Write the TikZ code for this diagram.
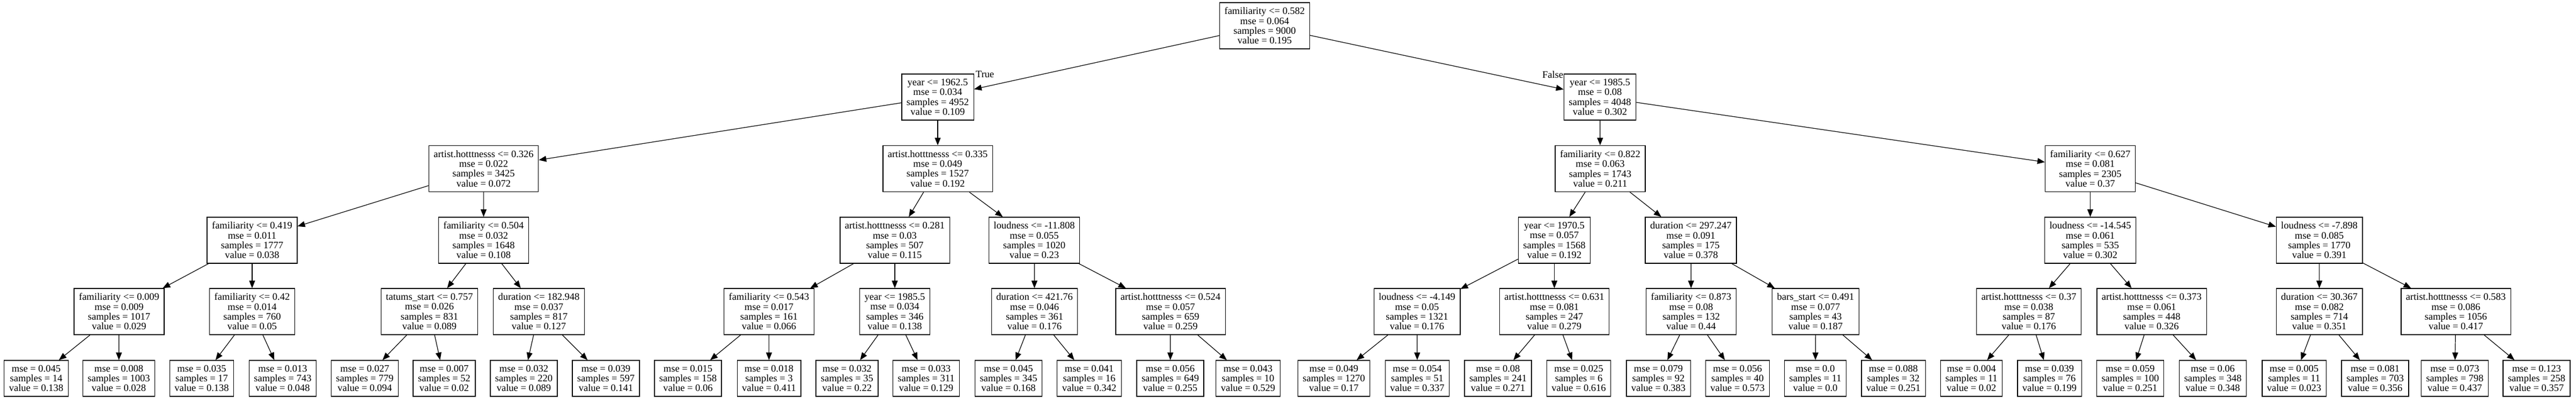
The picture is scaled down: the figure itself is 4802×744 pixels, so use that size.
\documentclass[tikz,border=0pt]{standalone}
\usepackage{fontspec}
\setmainfont{Liberation Serif}
\usetikzlibrary{arrows.meta}

\tikzset{
	splitbox/.style={draw, line width=1.3pt, minimum height=86pt, inner xsep=9pt, align=center, font=\fontsize{18.5}{18.3}\selectfont},
	leafbox/.style={splitbox, minimum height=67pt},
	branch/.style={-{Triangle[length=14pt,width=11pt]}, line width=1.2pt},
	edgelabel/.style={anchor=base, inner sep=0pt, font=\fontsize{18.5}{18.3}\selectfont}
}

\begin{document}
\begin{tikzpicture}[x=1pt,y=-1pt]
	\useasboundingbox (0,0) rectangle (4802,744);

	%root
	\node[splitbox] (top) at (2357.5,48) {familiarity <= 0.582\\mse = 0.064\\samples = 9000\\value = 0.195};

	%level 1
	\node[splitbox] (l) at (1748,181) {year <= 1962.5\\mse = 0.034\\samples = 4952\\value = 0.109};
	\node[splitbox] (r) at (2982.5,181) {year <= 1985.5\\mse = 0.08\\samples = 4048\\value = 0.302};

	%level 2
	\node[splitbox] (ll) at (901.5,314.5) {artist.hotttnesss <= 0.326\\mse = 0.022\\samples = 3425\\value = 0.072};
	\node[splitbox] (lr) at (1748,314.5) {artist.hotttnesss <= 0.335\\mse = 0.049\\samples = 1527\\value = 0.192};
	\node[splitbox] (rl) at (2983,314.5) {familiarity <= 0.822\\mse = 0.063\\samples = 1743\\value = 0.211};
	\node[splitbox] (rr) at (3896.5,314.5) {familiarity <= 0.627\\mse = 0.081\\samples = 2305\\value = 0.37};

	%level 3
	\node[splitbox] (lll) at (470,448) {familiarity <= 0.419\\mse = 0.011\\samples = 1777\\value = 0.038};
	\node[splitbox] (llr) at (901.5,448) {familiarity <= 0.504\\mse = 0.032\\samples = 1648\\value = 0.108};
	\node[splitbox] (lrl) at (1668,448) {artist.hotttnesss <= 0.281\\mse = 0.03\\samples = 507\\value = 0.115};
	\node[splitbox] (lrr) at (1928,448) {loudness <= -11.808\\mse = 0.055\\samples = 1020\\value = 0.23};
	\node[splitbox] (rll) at (2897.5,448) {year <= 1970.5\\mse = 0.057\\samples = 1568\\value = 0.192};
	\node[splitbox] (rlr) at (3152,448) {duration <= 297.247\\mse = 0.091\\samples = 175\\value = 0.378};
	\node[splitbox] (rrl) at (3896.5,448) {loudness <= -14.545\\mse = 0.061\\samples = 535\\value = 0.302};
	\node[splitbox] (rrr) at (4323.5,448) {loudness <= -7.898\\mse = 0.085\\samples = 1770\\value = 0.391};

	%level 4
	\node[splitbox] (llll) at (222,581) {familiarity <= 0.009\\mse = 0.009\\samples = 1017\\value = 0.029};
	\node[splitbox] (lllr) at (470,581) {familiarity <= 0.42\\mse = 0.014\\samples = 760\\value = 0.05};
	\node[splitbox] (llrl) at (800.5,581) {tatums\_start <= 0.757\\mse = 0.026\\samples = 831\\value = 0.089};
	\node[splitbox] (llrr) at (1004.5,581) {duration <= 182.948\\mse = 0.037\\samples = 817\\value = 0.127};
	\node[splitbox] (lrll) at (1433.5,581) {familiarity <= 0.543\\mse = 0.017\\samples = 161\\value = 0.066};
	\node[splitbox] (lrlr) at (1668,581) {year <= 1985.5\\mse = 0.034\\samples = 346\\value = 0.138};
	\node[splitbox] (lrrl) at (1928.5,581) {duration <= 421.76\\mse = 0.046\\samples = 361\\value = 0.176};
	\node[splitbox] (lrrr) at (2182,581) {artist.hotttnesss <= 0.524\\mse = 0.057\\samples = 659\\value = 0.259};
	\node[splitbox] (rlll) at (2641.5,581) {loudness <= -4.149\\mse = 0.05\\samples = 1321\\value = 0.176};
	\node[splitbox] (rllr) at (2897.5,581) {artist.hotttnesss <= 0.631\\mse = 0.081\\samples = 247\\value = 0.279};
	\node[splitbox] (rlrl) at (3152.5,581) {familiarity <= 0.873\\mse = 0.08\\samples = 132\\value = 0.44};
	\node[splitbox] (rlrr) at (3384.5,581) {bars\_start <= 0.491\\mse = 0.077\\samples = 43\\value = 0.187};
	\node[splitbox] (rrll) at (3782,581) {artist.hotttnesss <= 0.37\\mse = 0.038\\samples = 87\\value = 0.176};
	\node[splitbox] (rrlr) at (4011,581) {artist.hotttnesss <= 0.373\\mse = 0.061\\samples = 448\\value = 0.326};
	\node[splitbox] (rrrl) at (4323.5,581) {duration <= 30.367\\mse = 0.082\\samples = 714\\value = 0.351};
	\node[splitbox] (rrrr) at (4578,581) {artist.hotttnesss <= 0.583\\mse = 0.086\\samples = 1056\\value = 0.417};

	%leaves
	\node[leafbox] (lllll) at (67.5,705.5) {mse = 0.045\\samples = 14\\value = 0.138};
	\node[leafbox] (llllr) at (221.5,705.5) {mse = 0.008\\samples = 1003\\value = 0.028};
	\node[leafbox] (lllrl) at (376,705.5) {mse = 0.035\\samples = 17\\value = 0.138};
	\node[leafbox] (lllrr) at (527,705.5) {mse = 0.013\\samples = 743\\value = 0.048};
	\node[leafbox] (llrll) at (680,705.5) {mse = 0.027\\samples = 779\\value = 0.094};
	\node[leafbox] (llrlr) at (828,705.5) {mse = 0.007\\samples = 52\\value = 0.02};
	\node[leafbox] (llrrl) at (976.5,705.5) {mse = 0.032\\samples = 220\\value = 0.089};
	\node[leafbox] (llrrr) at (1129.5,705.5) {mse = 0.039\\samples = 597\\value = 0.141};
	\node[leafbox] (lrlll) at (1282.5,705.5) {mse = 0.015\\samples = 158\\value = 0.06};
	\node[leafbox] (lrllr) at (1433.5,705.5) {mse = 0.018\\samples = 3\\value = 0.411};
	\node[leafbox] (lrlrl) at (1579,705.5) {mse = 0.032\\samples = 35\\value = 0.22};
	\node[leafbox] (lrlrr) at (1726.5,705.5) {mse = 0.033\\samples = 311\\value = 0.129};
	\node[leafbox] (lrrll) at (1880,705.5) {mse = 0.045\\samples = 345\\value = 0.168};
	\node[leafbox] (lrrlr) at (2030.5,705.5) {mse = 0.041\\samples = 16\\value = 0.342};
	\node[leafbox] (lrrrl) at (2181.5,705.5) {mse = 0.056\\samples = 649\\value = 0.255};
	\node[leafbox] (lrrrr) at (2326.5,705.5) {mse = 0.043\\samples = 10\\value = 0.529};
	\node[leafbox] (rllll) at (2486.5,705.5) {mse = 0.049\\samples = 1270\\value = 0.17};
	\node[leafbox] (rlllr) at (2642,705.5) {mse = 0.054\\samples = 51\\value = 0.337};
	\node[leafbox] (rllrl) at (2792.5,705.5) {mse = 0.08\\samples = 241\\value = 0.271};
	\node[leafbox] (rllrr) at (2943,705.5) {mse = 0.025\\samples = 6\\value = 0.616};
	\node[leafbox] (rlrll) at (3091.5,705.5) {mse = 0.079\\samples = 92\\value = 0.383};
	\node[leafbox] (rlrlr) at (3239,705.5) {mse = 0.056\\samples = 40\\value = 0.573};
	\node[leafbox] (rlrrl) at (3384,705.5) {mse = 0.0\\samples = 11\\value = 0.0};
	\node[leafbox] (rlrrr) at (3529.5,705.5) {mse = 0.088\\samples = 32\\value = 0.251};
	\node[leafbox] (rrlll) at (3675,705.5) {mse = 0.004\\samples = 11\\value = 0.02};
	\node[leafbox] (rrllr) at (3820.5,705.5) {mse = 0.039\\samples = 76\\value = 0.199};
	\node[leafbox] (rrlrl) at (3971,705.5) {mse = 0.059\\samples = 100\\value = 0.251};
	\node[leafbox] (rrlrr) at (4125,705.5) {mse = 0.06\\samples = 348\\value = 0.348};
	\node[leafbox] (rrrll) at (4276.5,705.5) {mse = 0.005\\samples = 11\\value = 0.023};
	\node[leafbox] (rrrlr) at (4427.5,705.5) {mse = 0.081\\samples = 703\\value = 0.356};
	\node[leafbox] (rrrrl) at (4576,705.5) {mse = 0.073\\samples = 798\\value = 0.437};
	\node[leafbox] (rrrrr) at (4728.5,705.5) {mse = 0.123\\samples = 258\\value = 0.357};

	%edges
	\draw[branch] (top) -- (l);
	\draw[branch] (top) -- (r);
	\node[edgelabel] (truelabel) at (1836,144) {True};
	\node[edgelabel] (falselabel) at (2894.5,145) {False};

	\draw[branch] (l) -- (ll);
	\draw[branch] (l) -- (lr);
	\draw[branch] (r) -- (rl);
	\draw[branch] (r) -- (rr);

	\draw[branch] (ll) -- (lll);
	\draw[branch] (ll) -- (llr);
	\draw[branch] (lr) -- (lrl);
	\draw[branch] (lr) -- (lrr);
	\draw[branch] (rl) -- (rll);
	\draw[branch] (rl) -- (rlr);
	\draw[branch] (rr) -- (rrl);
	\draw[branch] (rr) -- (rrr);

	\draw[branch] (lll) -- (llll);
	\draw[branch] (lll) -- (lllr);
	\draw[branch] (llr) -- (llrl);
	\draw[branch] (llr) -- (llrr);
	\draw[branch] (lrl) -- (lrll);
	\draw[branch] (lrl) -- (lrlr);
	\draw[branch] (lrr) -- (lrrl);
	\draw[branch] (lrr) -- (lrrr);
	\draw[branch] (rll) -- (rlll);
	\draw[branch] (rll) -- (rllr);
	\draw[branch] (rlr) -- (rlrl);
	\draw[branch] (rlr) -- (rlrr);
	\draw[branch] (rrl) -- (rrll);
	\draw[branch] (rrl) -- (rrlr);
	\draw[branch] (rrr) -- (rrrl);
	\draw[branch] (rrr) -- (rrrr);

	\draw[branch] (llll) -- (lllll);
	\draw[branch] (llll) -- (llllr);
	\draw[branch] (lllr) -- (lllrl);
	\draw[branch] (lllr) -- (lllrr);
	\draw[branch] (llrl) -- (llrll);
	\draw[branch] (llrl) -- (llrlr);
	\draw[branch] (llrr) -- (llrrl);
	\draw[branch] (llrr) -- (llrrr);
	\draw[branch] (lrll) -- (lrlll);
	\draw[branch] (lrll) -- (lrllr);
	\draw[branch] (lrlr) -- (lrlrl);
	\draw[branch] (lrlr) -- (lrlrr);
	\draw[branch] (lrrl) -- (lrrll);
	\draw[branch] (lrrl) -- (lrrlr);
	\draw[branch] (lrrr) -- (lrrrl);
	\draw[branch] (lrrr) -- (lrrrr);
	\draw[branch] (rlll) -- (rllll);
	\draw[branch] (rlll) -- (rlllr);
	\draw[branch] (rllr) -- (rllrl);
	\draw[branch] (rllr) -- (rllrr);
	\draw[branch] (rlrl) -- (rlrll);
	\draw[branch] (rlrl) -- (rlrlr);
	\draw[branch] (rlrr) -- (rlrrl);
	\draw[branch] (rlrr) -- (rlrrr);
	\draw[branch] (rrll) -- (rrlll);
	\draw[branch] (rrll) -- (rrllr);
	\draw[branch] (rrlr) -- (rrlrl);
	\draw[branch] (rrlr) -- (rrlrr);
	\draw[branch] (rrrl) -- (rrrll);
	\draw[branch] (rrrl) -- (rrrlr);
	\draw[branch] (rrrr) -- (rrrrl);
	\draw[branch] (rrrr) -- (rrrrr);
\end{tikzpicture}
\end{document}
